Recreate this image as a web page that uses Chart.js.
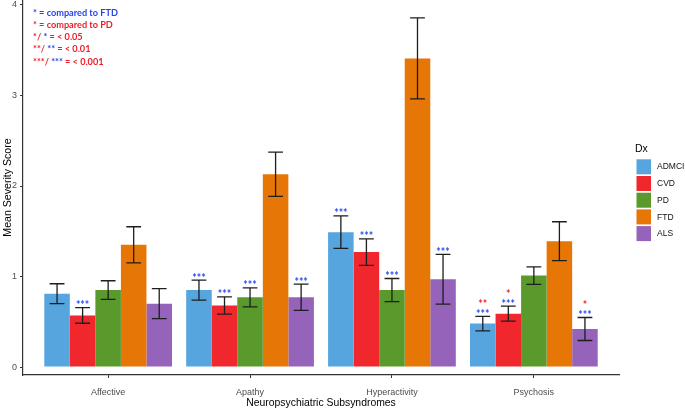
<!DOCTYPE html>
<html>
<head>
<meta charset="utf-8">
<script src="https://cdn.jsdelivr.net/npm/chart.js@4.4.0/dist/chart.umd.min.js"></script>
<style>
    html, body { margin: 0; padding: 0; background: #fff; }
    #wrap { width: 685px; height: 411px; position: relative; }
</style>
</head>
<body>
<div id="wrap"><canvas id="severityChart"></canvas></div>
<script>
const categories = ['Affective', 'Apathy', 'Hyperactivity', 'Psychosis'];
const groups = ['ADMCI', 'CVD', 'PD', 'FTD', 'ALS'];
const groupColors = ['#56A5DE', '#F0282E', '#5A9A2D', '#E67707', '#9563BA'];

// mean severity score per subsyndrome
const admciMean = [0.81, 0.85, 1.49, 0.48];
const cvdMean = [0.57, 0.68, 1.27, 0.59];
const pdMean = [0.85, 0.77, 0.85, 1.01];
const ftdMean = [1.35, 2.13, 3.41, 1.39];
const alsMean = [0.70, 0.77, 0.97, 0.42];

// standard error
const admciSem = [0.11, 0.11, 0.18, 0.08];
const cvdSem = [0.086, 0.095, 0.147, 0.083];
const pdSem = [0.103, 0.105, 0.128, 0.097];
const ftdSem = [0.20, 0.245, 0.447, 0.215];
const alsSem = [0.166, 0.145, 0.275, 0.127];

// significance vs FTD (blue) and vs PD (red)
const admciVsFtd = ['', '***', '***', '***'];
const cvdVsFtd = ['***', '***', '***', '***'];
const pdVsFtd = ['', '***', '***', ''];
const ftdVsFtd = ['', '', '', ''];
const alsVsFtd = ['', '***', '***', '***'];

const admciVsPd = ['', '', '', '**'];
const cvdVsPd = ['', '', '', '*'];
const pdVsPd = ['', '', '', ''];
const ftdVsPd = ['', '', '', ''];
const alsVsPd = ['', '', '', '*'];

const yTicks = [0, 1, 2, 3, 4];

const means = [admciMean, cvdMean, pdMean, ftdMean, alsMean];
const sems = [admciSem, cvdSem, pdSem, ftdSem, alsSem];
const vsFtd = [admciVsFtd, cvdVsFtd, pdVsFtd, ftdVsFtd, alsVsFtd];
const vsPd = [admciVsPd, cvdVsPd, pdVsPd, ftdVsPd, alsVsPd];

const BLUE = '#2444EE';
const RED = '#EE1C25';
const AXIS_FONT = '"Liberation Sans", Arial, sans-serif';
const NOTE_FONT = 'Lato, "Liberation Sans", sans-serif';

const errorBars = {
    id: 'errorBars',
    afterDatasetsDraw(chart) {
        const {ctx} = chart;
        const y = chart.scales.y;

        ctx.save();
        ctx.strokeStyle = '#1e1e1e';
        ctx.lineWidth = 1.3;

        chart.data.datasets.forEach((ds, i) => {
            chart.getDatasetMeta(i).data.forEach((bar, j) => {
                const m = means[i][j];
                const e = sems[i][j];
                const top = y.getPixelForValue(m + e);
                const bot = y.getPixelForValue(m - e);
                const hw = bar.width * 0.29;

                ctx.beginPath();
                ctx.moveTo(bar.x, top);
                ctx.lineTo(bar.x, bot);
                ctx.moveTo(bar.x - hw, top);
                ctx.lineTo(bar.x + hw, top);
                ctx.moveTo(bar.x - hw, bot);
                ctx.lineTo(bar.x + hw, bot);
                ctx.stroke();

                ctx.font = 'bold 10.5px ' + NOTE_FONT;
                ctx.textAlign = 'center';
                ctx.textBaseline = 'alphabetic';
                if (vsFtd[i][j]) {
                    ctx.fillStyle = BLUE;
                    ctx.fillText(vsFtd[i][j], bar.x, y.getPixelForValue(m + e + 0.05) + 6);
                }
                if (vsPd[i][j]) {
                    ctx.fillStyle = RED;
                    ctx.fillText(vsPd[i][j], bar.x, y.getPixelForValue(m + e + 0.155) + 6);
                }
            });
        });
        ctx.restore();
    }
};

const notes = [
    [['*', BLUE], [' = compared to FTD', BLUE]],
    [['*', RED], [' = compared to PD', RED]],
    [['*/ ', RED], ['*', BLUE], [' = < 0.05', RED]],
    [['**/ ', RED], ['**', BLUE], [' = < 0.01', RED]],
    [['***/ ', RED], ['***', BLUE], [' = < 0.001', RED]]
];

const sideNotes = {
    id: 'sideNotes',
    afterDraw(chart) {
        const {ctx} = chart;
        ctx.save();

        // significance key, top left
        ctx.font = 'bold 10px ' + NOTE_FONT;
        const w = ctx.measureText('* = compared to FTD').width;
        const size = 10 * 85 / w;
        ctx.font = 'bold ' + size.toFixed(2) + 'px ' + NOTE_FONT;
        ctx.textAlign = 'left';
        ctx.textBaseline = 'middle';
        notes.forEach((line, k) => {
            let x = 33;
            const ly = 12.7 + k * 12.25;
            line.forEach(([txt, col]) => {
                ctx.fillStyle = col;
                ctx.fillText(txt, x, ly);
                x += ctx.measureText(txt).width;
            });
        });

        // legend
        ctx.fillStyle = '#000';
        ctx.font = '10.5px ' + AXIS_FONT;
        ctx.textBaseline = 'alphabetic';
        ctx.fillText('Dx', 635, 152);

        ctx.font = '8.5px ' + AXIS_FONT;
        ctx.textBaseline = 'middle';
        chart.data.datasets.forEach((ds, i) => {
            const top = 159.3 + i * 16.7;
            ctx.fillStyle = ds.backgroundColor;
            ctx.fillRect(636.5, top, 14.5, 15);
            ctx.fillStyle = '#111';
            ctx.fillText(ds.label, 657, top + 7.8);
        });

        ctx.restore();
    }
};

document.addEventListener('DOMContentLoaded', () => {
    const datasets = groups.map((g, i) => ({
        label: g,
        backgroundColor: groupColors[i],
        borderWidth: 0,
        data: means[i].map((v, j) => ({x: j + 1, y: v}))
    }));

    new Chart(document.querySelector('#severityChart'), {
        type: 'bar',
        data: {datasets: datasets},
        plugins: [errorBars, sideNotes],
        options: {
            responsive: true,
            maintainAspectRatio: false,
            animation: false,
            categoryPercentage: 0.9,
            barPercentage: 1.0,
            layout: {
                padding: {left: 0, right: 66, top: 0, bottom: 0}
            },
            plugins: {
                legend: {display: false},
                tooltip: {enabled: false}
            },
            scales: {
                x: {
                    type: 'linear',
                    min: 0.4,
                    max: 4.6,
                    offset: false,
                    grid: {
                        offset: false,
                        drawOnChartArea: false,
                        drawTicks: true,
                        tickLength: 3,
                        tickColor: '#333'
                    },
                    border: {color: '#333', width: 1.2},
                    ticks: {
                        stepSize: 1,
                        includeBounds: false,
                        autoSkip: false,
                        maxRotation: 0,
                        padding: 9,
                        color: '#4d4d4d',
                        font: {family: AXIS_FONT, size: 9},
                        callback: v => categories[v - 1] ?? ''
                    },
                    title: {
                        display: true,
                        text: 'Neuropsychiatric Subsyndromes',
                        color: '#000',
                        padding: {top: 0, bottom: 1.5},
                        font: {family: AXIS_FONT, size: 10.4}
                    },
                    afterFit(scale) {
                        scale.height = 36;
                        scale.paddingLeft = 0;
                        scale.paddingRight = 0;
                    }
                },
                y: {
                    min: -0.088,
                    max: 4.055,
                    grid: {
                        drawOnChartArea: false,
                        drawTicks: true,
                        tickLength: 3,
                        tickColor: '#333'
                    },
                    border: {color: '#333', width: 1.2},
                    ticks: {
                        stepSize: 1,
                        includeBounds: false,
                        padding: 3,
                        color: '#4d4d4d',
                        font: {family: AXIS_FONT, size: 9},
                        callback: v => yTicks.includes(v) ? String(v) : ''
                    },
                    title: {
                        display: true,
                        text: 'Mean Severity Score',
                        color: '#000',
                        padding: {top: 1.5, bottom: 0},
                        font: {family: AXIS_FONT, size: 10.6}
                    },
                    afterFit(scale) {
                        scale.width = 23;
                        scale.paddingTop = 0;
                        scale.paddingBottom = 0;
                    }
                }
            }
        }
    });
});
</script>
</body>
</html>
